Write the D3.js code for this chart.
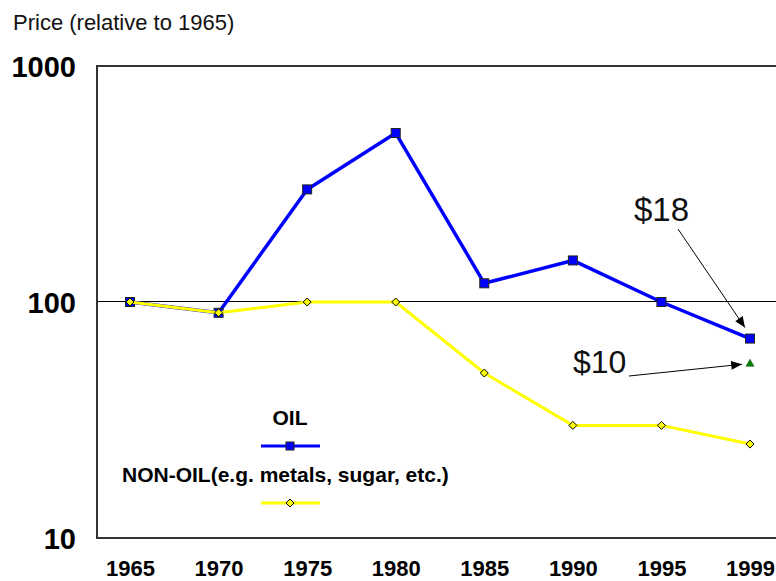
<!DOCTYPE html>
<html>
<head>
<meta charset="utf-8">
<script src="https://cdn.jsdelivr.net/npm/d3@7"></script>
<style>
  body { margin: 0; background: #fff; }
  svg { display: block; font-family: Arial, "Liberation Sans", sans-serif; }
</style>
</head>
<body>
<div id="chart"></div>
<script>

// data
var years = ["1965", "1970", "1975", "1980", "1985", "1990", "1995", "1999"];
var oilValues = [100, 90, 300, 520, 120, 150, 100, 70];
var nonOilValues = [100, 90, 100, 100, 50, 30, 30, 25];
var yTickValues = [10, 100, 1000];
var todayYear = "1999";
var todayValue = 55; // the $10 marker

var svg_width = 776;
var svg_height = 581;
var plot_left = 97;
var plot_top = 66;
var plot_bottom = 538;

var x = d3.scalePoint()
          .domain(years)
          .range([130, 750]);

var y = d3.scaleLog()
          .domain([10, 1000])
          .range([plot_bottom, plot_top]);

var svg = d3.select('#chart')
            .append('svg')
            .attr('width', svg_width)
            .attr('height', svg_height);

svg.append('defs').append('marker')
   .attr('id', 'arrow')
   .attr('viewBox', '0 0 12 10')
   .attr('refX', 12)
   .attr('refY', 5)
   .attr('markerWidth', 13)
   .attr('markerHeight', 9)
   .attr('markerUnits', 'userSpaceOnUse')
   .attr('orient', 'auto')
   .append('path')
   .attr('d', 'M0,0 L12,5 L0,10 z')
   .attr('fill', '#000');

// axis title
svg.append('text')
   .attr('x', 13)
   .attr('y', 30)
   .attr('font-size', 22)
   .attr('fill', '#111')
   .text('Price (relative to 1965)');

// reference line at 100
svg.append('line')
   .attr('x1', plot_left).attr('x2', svg_width)
   .attr('y1', y(100) - 0.5).attr('y2', y(100) - 0.5)
   .attr('stroke', '#000')
   .attr('stroke-width', 1);

// frame: left, top, bottom
svg.append('path')
   .attr('d', 'M' + (svg_width + 2) + ',' + plot_top + ' H' + plot_left +
              ' V' + plot_bottom + ' H' + (svg_width + 2))
   .attr('fill', 'none')
   .attr('stroke', '#333')
   .attr('stroke-width', 2);

// y axis labels
var yAxis = d3.axisLeft(y)
              .tickValues(yTickValues)
              .tickFormat(d3.format('d'))
              .tickSize(0)
              .tickPadding(0);

svg.append('g')
   .attr('transform', 'translate(76, 0)')
   .call(yAxis)
   .call(function(g) { g.select('.domain').remove(); })
   .selectAll('text')
   .attr('font-size', 29)
   .attr('font-weight', 'bold')
   .attr('font-family', 'Arial, "Liberation Sans", sans-serif')
   .attr('fill', '#000')
   .attr('dy', '0.36em');

// x axis labels
var xAxis = d3.axisBottom(x).tickSize(0).tickPadding(0);

svg.append('g')
   .attr('transform', 'translate(0, 560)')
   .call(xAxis)
   .call(function(g) { g.select('.domain').remove(); })
   .selectAll('text')
   .attr('font-size', 22)
   .attr('font-weight', 'bold')
   .attr('font-family', 'Arial, "Liberation Sans", sans-serif')
   .attr('fill', '#000')
   .attr('dy', '0.72em');

var line = d3.line()
             .x(function(d) { return x(d.year); })
             .y(function(d) { return y(d.value); });

var oil = years.map(function(yr, i) { return {year: yr, value: oilValues[i]}; });
var nonOil = years.map(function(yr, i) { return {year: yr, value: nonOilValues[i]}; });

// oil series
svg.append('path')
   .datum(oil)
   .attr('d', line)
   .attr('fill', 'none')
   .attr('stroke', '#0000ff')
   .attr('stroke-width', 3.5)
   .attr('stroke-linejoin', 'round');

svg.selectAll('rect.oil')
   .data(oil)
   .enter()
     .append('rect')
     .attr('class', 'oil')
     .attr('x', function(d) { return x(d.year) - 4.5; })
     .attr('y', function(d) { return y(d.value) - 4.5; })
     .attr('width', 9)
     .attr('height', 9)
     .attr('fill', '#0000ff')
     .attr('stroke', '#222')
     .attr('stroke-width', 1);

// non-oil series
svg.append('path')
   .datum(nonOil)
   .attr('d', line)
   .attr('fill', 'none')
   .attr('stroke', '#ffff00')
   .attr('stroke-width', 3)
   .attr('stroke-linejoin', 'round');

var diamond = 'M0,-4 L4,0 L0,4 L-4,0 Z';

svg.selectAll('path.nonoil')
   .data(nonOil)
   .enter()
     .append('path')
     .attr('class', 'nonoil')
     .attr('d', diamond)
     .attr('transform', function(d) { return 'translate(' + x(d.year) + ',' + y(d.value) + ')'; })
     .attr('fill', '#ffff00')
     .attr('stroke', '#000')
     .attr('stroke-width', 1);

// $10 marker
svg.append('path')
   .attr('d', 'M0,-4 L4,3 L-4,3 Z')
   .attr('transform', 'translate(' + x(todayYear) + ',' + y(todayValue) + ')')
   .attr('fill', '#008000')
   .attr('stroke', '#004000')
   .attr('stroke-width', 0.5);

// annotations
svg.append('text')
   .attr('x', 634)
   .attr('y', 221)
   .attr('font-size', 33)
   .attr('fill', '#111')
   .text('$18');

svg.append('line')
   .attr('x1', 678).attr('y1', 229)
   .attr('x2', x(todayYear) - 5).attr('y2', y(oilValues[7]) - 11)
   .attr('stroke', '#000')
   .attr('stroke-width', 1)
   .attr('marker-end', 'url(#arrow)');

svg.append('text')
   .attr('x', 573)
   .attr('y', 373)
   .attr('font-size', 32)
   .attr('fill', '#111')
   .text('$10');

svg.append('line')
   .attr('x1', 629).attr('y1', 376)
   .attr('x2', x(todayYear) - 8).attr('y2', y(todayValue) + 1)
   .attr('stroke', '#000')
   .attr('stroke-width', 1)
   .attr('marker-end', 'url(#arrow)');

// legend
var legend = svg.append('g');

legend.append('text')
      .attr('x', 290)
      .attr('y', 425)
      .attr('text-anchor', 'middle')
      .attr('font-size', 21)
      .attr('font-weight', 'bold')
      .text('OIL');

legend.append('line')
      .attr('x1', 261).attr('x2', 320)
      .attr('y1', 446).attr('y2', 446)
      .attr('stroke', '#0000ff')
      .attr('stroke-width', 3);

legend.append('rect')
      .attr('x', 286).attr('y', 442)
      .attr('width', 8).attr('height', 8)
      .attr('fill', '#0000ff')
      .attr('stroke', '#222')
      .attr('stroke-width', 1);

legend.append('text')
      .attr('x', 122)
      .attr('y', 482)
      .attr('font-size', 21)
      .attr('font-weight', 'bold')
      .text('NON-OIL(e.g. metals, sugar, etc.)');

legend.append('line')
      .attr('x1', 261).attr('x2', 320)
      .attr('y1', 503).attr('y2', 503)
      .attr('stroke', '#ffff00')
      .attr('stroke-width', 3);

legend.append('path')
      .attr('d', diamond)
      .attr('transform', 'translate(290,503)')
      .attr('fill', '#ffff00')
      .attr('stroke', '#000')
      .attr('stroke-width', 1);

</script>
</body>
</html>
